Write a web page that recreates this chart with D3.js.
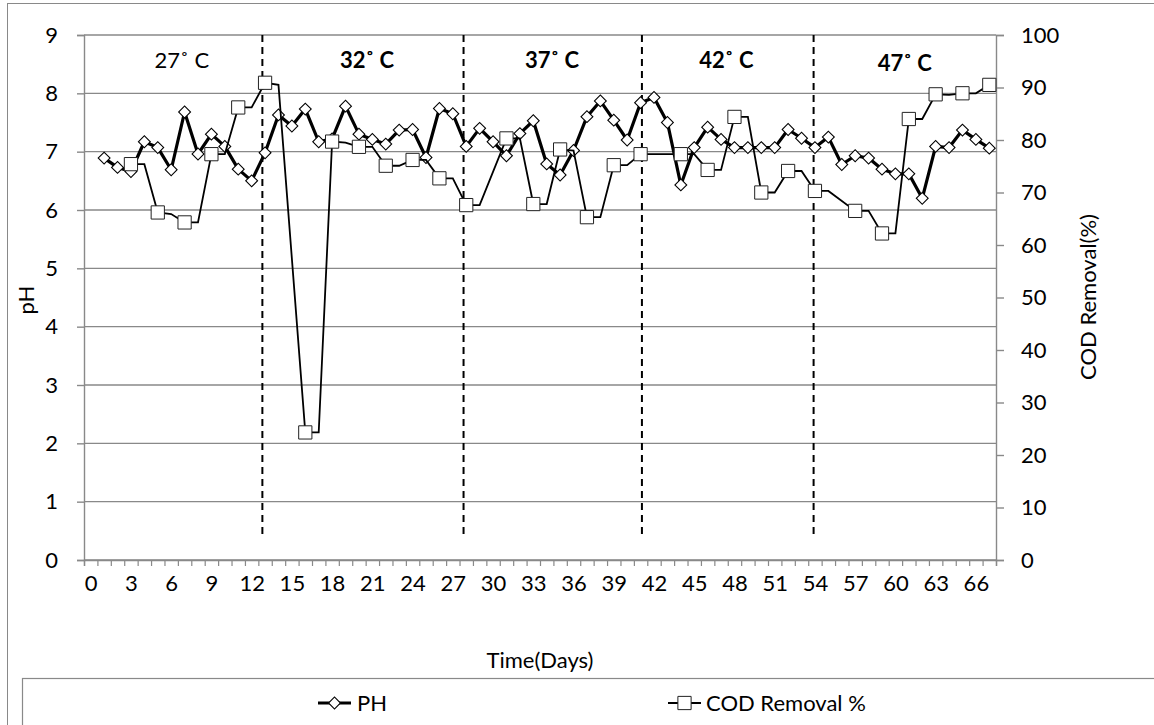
<!DOCTYPE html>
<html>
<head>
<meta charset="utf-8">
<script src="https://cdn.jsdelivr.net/npm/d3@7"></script>
<style>
  body { margin: 0; background: #fff; }
  svg text { font-family: Lato, "Liberation Sans", sans-serif; fill: #000; }
</style>
</head>
<body>
<script>
// pH, one reading per day from day 1 to day 67
const phValues = [6.89, 6.73, 6.66, 7.17, 7.07, 6.69, 7.68, 6.96, 7.30, 7.09,
  6.70, 6.50, 6.98, 7.63, 7.44, 7.73, 7.17, 7.22, 7.78, 7.30,
  7.21, 7.13, 7.37, 7.38, 6.90, 7.74, 7.65, 7.09, 7.40, 7.17,
  6.93, 7.31, 7.53, 6.79, 6.60, 7.02, 7.60, 7.87, 7.54, 7.20,
  7.84, 7.93, 7.50, 6.43, 7.07, 7.42, 7.21, 7.07, 7.07, 7.07,
  7.07, 7.38, 7.23, 7.07, 7.25, 6.78, 6.93, 6.89, 6.70, 6.62,
  6.62, 6.20, 7.09, 7.07, 7.37, 7.21, 7.06];
const phFirstDay = 1;

// COD removal (%), line vertices; marked = 1 where a square marker is drawn
const codDays   = [3, 4, 5, 6, 7, 8, 9, 10, 11, 12, 13, 14, 16, 17, 18, 19, 20, 21, 22, 23,
  24, 25, 26, 27, 28, 29, 31, 32, 33, 34, 35, 36, 37, 38, 39, 40, 41, 42, 43, 44,
  45, 46, 47, 48, 49, 50, 51, 52, 53, 54, 55, 57, 58, 59, 60, 61, 62, 63, 64, 65, 66, 67];
const codValues = [75.4, 75.4, 66.2, 65.9, 64.3, 64.3, 77.3, 77.3, 86.2, 86.2, 90.9, 90.5, 24.3, 24.3, 79.7, 79.5, 78.7, 78.7, 75.1, 75.1,
  76.2, 76.2, 72.7, 72.7, 67.6, 67.6, 80.3, 80.3, 67.8, 67.8, 78.2, 78.0, 65.3, 65.3, 75.2, 75.2, 77.3, 77.3, 77.3, 77.3,
  77.3, 74.3, 74.3, 84.4, 84.4, 70.0, 70.0, 74.1, 74.1, 70.3, 70.3, 66.5, 66.5, 62.2, 62.2, 84.0, 84.0, 88.7, 88.6, 88.9, 88.9, 90.5];
const codMarked = [1, 0, 1, 0, 1, 0, 1, 0, 1, 0, 1, 0, 1, 0, 1, 0, 1, 0, 1, 0,
  1, 0, 1, 0, 1, 0, 1, 0, 1, 0, 1, 0, 1, 0, 1, 0, 1, 0, 0, 1,
  0, 1, 0, 1, 0, 1, 0, 1, 0, 1, 0, 1, 0, 1, 0, 1, 0, 1, 0, 1, 0, 1];

// temperature phases
const phaseLabels = ["27˚ C", "32˚ C", "37˚ C", "42˚ C", "47˚ C"];
const phaseCenters = [6.8, 20.6, 34.4, 47.4, 60.7];
const phaseBold = [false, true, true, true, true];
const phaseDividers = [12.8, 27.8, 41.1, 53.9];

const dayCount = 68;               // categories 0..67
const xLabelStep = 3;
const phTicks = [0, 1, 2, 3, 4, 5, 6, 7, 8, 9];
const codTicks = [0, 10, 20, 30, 40, 50, 60, 70, 80, 90, 100];

const W = 1154, H = 725;
const plotLeft = 84, plotRight = 996, plotTop = 35, plotBottom = 560;
const grey = "#898989";

const svg = d3.select("body").append("svg")
  .attr("width", W)
  .attr("height", H);

// chart frame (cropped on the right and bottom)
svg.append("rect")
  .attr("x", 7.5).attr("y", 3.5)
  .attr("width", W + 20).attr("height", H + 20)
  .attr("fill", "none").attr("stroke", grey).attr("stroke-width", 1);

const x = d3.scaleLinear().domain([-0.5, dayCount - 0.5]).range([plotLeft, plotRight]);
const yL = d3.scaleLinear().domain([0, 9]).range([plotBottom, plotTop]);
const yR = d3.scaleLinear().domain([0, 100]).range([plotBottom, plotTop]);

// horizontal gridlines
svg.append("g")
  .selectAll("line")
  .data(phTicks)
  .join("line")
  .attr("x1", plotLeft).attr("x2", plotRight)
  .attr("y1", d => yL(d)).attr("y2", d => yL(d))
  .attr("stroke", grey).attr("stroke-width", 1.4);

// left axis
let gl = svg.append("g")
  .attr("transform", `translate(${plotLeft},0)`)
  .call(d3.axisLeft(yL).tickValues(phTicks).tickSize(7).tickPadding(19).tickFormat(d3.format("d")));
gl.select(".domain").attr("stroke", grey).attr("stroke-width", 1.4);
gl.selectAll(".tick line").attr("stroke", grey).attr("stroke-width", 1.4);
gl.selectAll(".tick text").attr("font-size", 22).style("font-family", "Lato, sans-serif");

// right axis
let gr = svg.append("g")
  .attr("transform", `translate(${plotRight},0)`)
  .call(d3.axisRight(yR).tickValues(codTicks).tickSize(8).tickPadding(17));
gr.select(".domain").attr("stroke", grey).attr("stroke-width", 1.4);
gr.selectAll(".tick line").attr("stroke", grey).attr("stroke-width", 1.4);
gr.selectAll(".tick text").attr("font-size", 22).style("font-family", "Lato, sans-serif");

// bottom axis: tick marks between categories
const boundaries = d3.range(dayCount + 1).map(i => i - 0.5);
let gb = svg.append("g")
  .attr("transform", `translate(0,${plotBottom})`)
  .call(d3.axisBottom(x).tickValues(boundaries).tickSize(6).tickFormat(""));
gb.select(".domain").attr("stroke", grey).attr("stroke-width", 1.4);
gb.selectAll(".tick line").attr("stroke", grey).attr("stroke-width", 1.2);

// bottom labels
const labelDays = d3.range(0, dayCount, xLabelStep);
let gbl = svg.append("g")
  .attr("transform", `translate(0,${plotBottom})`)
  .call(d3.axisBottom(x).tickValues(labelDays).tickSize(0).tickPadding(15).tickFormat(d3.format("d")));
gbl.select(".domain").remove();
gbl.selectAll(".tick text").attr("font-size", 22).style("font-family", "Lato, sans-serif");

// phase dividers
svg.append("g")
  .selectAll("line")
  .data(phaseDividers)
  .join("line")
  .attr("x1", d => x(d)).attr("x2", d => x(d))
  .attr("y1", plotTop).attr("y2", 534)
  .attr("stroke", "#000").attr("stroke-width", 2)
  .attr("stroke-dasharray", "7,5");

// phase labels
svg.append("g")
  .selectAll("text")
  .data(phaseLabels)
  .join("text")
  .attr("x", (d, i) => x(phaseCenters[i]))
  .attr("y", (d, i) => i === 4 ? 71 : 68)
  .attr("text-anchor", "middle")
  .attr("font-size", 22)
  .attr("font-weight", (d, i) => phaseBold[i] ? "bold" : "normal")
  .text(d => d);

// pH series
const phPoints = phValues.map((v, i) => [phFirstDay + i, v]);
svg.append("path")
  .datum(phPoints)
  .attr("fill", "none").attr("stroke", "#000").attr("stroke-width", 3.2)
  .attr("stroke-linejoin", "round")
  .attr("d", d3.line().x(d => x(d[0])).y(d => yL(d[1])));

const diamond = d3.symbol().type(d3.symbolSquare).size(70);
svg.append("g")
  .selectAll("path")
  .data(phPoints)
  .join("path")
  .attr("d", diamond)
  .attr("transform", d => `translate(${x(d[0])},${yL(d[1])}) rotate(45)`)
  .attr("fill", "#fff").attr("stroke", "#000").attr("stroke-width", 1.1);

// COD series
const codPoints = codDays.map((d, i) => [d, codValues[i], codMarked[i]]);
svg.append("path")
  .datum(codPoints)
  .attr("fill", "none").attr("stroke", "#000").attr("stroke-width", 1.8)
  .attr("d", d3.line().x(d => x(d[0])).y(d => yR(d[1])));

const square = d3.symbol().type(d3.symbolSquare).size(175);
svg.append("g")
  .selectAll("path")
  .data(codPoints.filter(d => d[2] === 1))
  .join("path")
  .attr("d", square)
  .attr("transform", d => `translate(${x(d[0])},${yR(d[1])})`)
  .attr("fill", "#fff").attr("stroke", "#222").attr("stroke-width", 1);

// axis titles
svg.append("text")
  .attr("transform", "translate(34,300) rotate(-90)")
  .attr("text-anchor", "middle")
  .attr("font-size", 22)
  .text("pH");

svg.append("text")
  .attr("transform", "translate(1096,297) rotate(-90)")
  .attr("text-anchor", "middle")
  .attr("font-size", 22)
  .text("COD Removal(%)");

svg.append("text")
  .attr("x", (plotLeft + plotRight) / 2).attr("y", 668)
  .attr("text-anchor", "middle")
  .attr("font-size", 22)
  .text("Time(Days)");

// legend
svg.append("rect")
  .attr("x", 22.5).attr("y", 678.5)
  .attr("width", W).attr("height", 80)
  .attr("fill", "none").attr("stroke", grey).attr("stroke-width", 1.2);

const legendY = 703;
const lg = svg.append("g");
lg.append("line").attr("x1", 318).attr("x2", 351).attr("y1", legendY).attr("y2", legendY)
  .attr("stroke", "#000").attr("stroke-width", 3.2);
lg.append("path").attr("d", diamond)
  .attr("transform", `translate(334.5,${legendY}) rotate(45)`)
  .attr("fill", "#fff").attr("stroke", "#000").attr("stroke-width", 1.1);
lg.append("text").attr("x", 357).attr("y", legendY + 8).attr("font-size", 22).text("PH");

lg.append("line").attr("x1", 668).attr("x2", 701).attr("y1", legendY).attr("y2", legendY)
  .attr("stroke", "#000").attr("stroke-width", 1.8);
lg.append("path").attr("d", square)
  .attr("transform", `translate(684.5,${legendY})`)
  .attr("fill", "#fff").attr("stroke", "#222").attr("stroke-width", 1);
lg.append("text").attr("x", 706).attr("y", legendY + 8).attr("font-size", 22).text("COD Removal %");
</script>
</body>
</html>
